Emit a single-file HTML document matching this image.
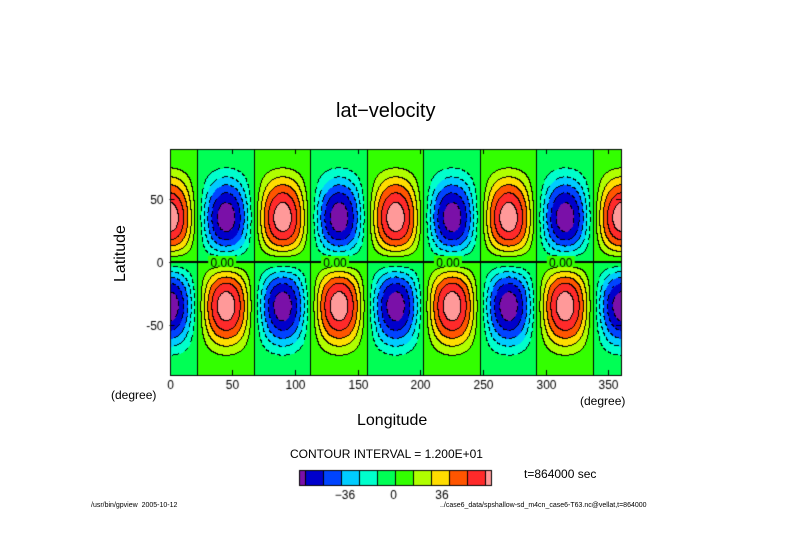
<!DOCTYPE html>
<html><head><meta charset="utf-8"><style>
body{margin:0;background:#fff;width:789px;height:558px;overflow:hidden;position:relative;font-family:"Liberation Sans",sans-serif;}
.t{position:absolute;color:#000;white-space:nowrap;}
</style></head><body>
<canvas id="c" width="789" height="558" style="position:absolute;left:0;top:0"></canvas>
<div class="t" style="left:336px;top:100px;font-size:20px;">lat−velocity</div>
<div class="t" style="left:96px;top:248px;font-size:16px;transform:rotate(-90deg);transform-origin:center;width:50px;text-align:center;">Latitude</div>
<div class="t" style="left:357px;top:412px;font-size:16px;">Longitude</div>
<div class="t" style="left:111px;top:388px;font-size:12px;">(degree)</div>
<div class="t" style="left:580px;top:394px;font-size:12px;">(degree)</div>
<div class="t" style="left:290px;top:447px;font-size:12px;">CONTOUR INTERVAL = 1.200E+01</div>
<div class="t" style="left:524px;top:467px;font-size:12px;">t=864000 sec</div>
<div class="t" style="left:91px;top:502px;font-size:7px;">/usr/bin/gpview&nbsp; 2005-10-12</div>
<div class="t" style="left:440px;top:502px;font-size:7px;">../case6_data/spshallow-sd_m4cn_case6-T63.nc@vellat,t=864000</div>
<script>
const levels=[-72,-60,-48,-36,-24,-12,0,12,24,36,48,60,72];
const colors=["#7a10a8","#0000cc","#0044ff","#00ccff","#00ffcc","#00ff55","#33ff00","#b0ff00","#ffdd00","#ff5500","#ff2a2a","#ff9999"];
const amplitude=[68];
const wavenumber=[4];
const xTicks=[0,50,100,150,200,250,300,350];
const yTicks=[-50,0,50];
const cbLabels=[-36,0,36];
const X0=169.5,X1=621,Y0=149,Y1=375;
const sx=l=>X0+(l)/360*(X1-X0);
const sy=p=>Y1-(p+90)/180*(Y1-Y0);
function field(lon,lat){const r=lat*Math.PI/180;const f=Math.sin(r)*Math.cos(r)*Math.cos(r)/0.3849;
 return amplitude[0]*Math.cos(wavenumber[0]*lon*Math.PI/180)*f;}
function lev(v){let i=0;while(i<levels.length&&v>=levels[i])i++;return i;}
const cv=document.getElementById('c'),ctx=cv.getContext('2d');
const W=Math.round(X1-X0),H=Math.round(Y1-Y0);
const img=ctx.createImageData(W,H);
const rgb=colors.map(c=>[parseInt(c.substr(1,2),16),parseInt(c.substr(3,2),16),parseInt(c.substr(5,2),16)]);
const L=[];
for(let j=0;j<H;j++){L[j]=[];for(let i=0;i<W;i++){const lon=(i+0.5)/W*360,lat=90-(j+0.5)/H*180;L[j][i]=lev(field(lon,lat));}}
for(let j=0;j<H;j++)for(let i=0;i<W;i++){
 const k=L[j][i];let c=rgb[Math.max(0,Math.min(11,k-1))];
 let edge=false,neg=false;
 if(i+1<W&&L[j][i+1]!==k){edge=true;neg=Math.min(k,L[j][i+1])<6;}
 if(j+1<H&&L[j+1][i]!==k){edge=true;neg=Math.min(k,L[j+1][i])<6;}
 if(edge&&(!neg||((i+j)%8)<5))c=[0,0,0];
 const p=(j*W+i)*4;img.data[p]=c[0];img.data[p+1]=c[1];img.data[p+2]=c[2];img.data[p+3]=255;}
ctx.putImageData(img,Math.round(X0),Y0);
ctx.strokeStyle='#000';ctx.lineWidth=1;
ctx.beginPath();ctx.moveTo(X0,sy(0)+0.5);ctx.lineTo(X1,sy(0)+0.5);ctx.stroke();
ctx.strokeRect(Math.round(X0)+0.5,Y0+0.5,W-1,H);
ctx.font='12px "Liberation Sans",sans-serif';ctx.fillStyle='#000';
ctx.textAlign='center';
xTicks.forEach(v=>{const x=Math.round(sx(v))+0.5;ctx.beginPath();ctx.moveTo(x,Y1);ctx.lineTo(x,Y1-5);ctx.moveTo(x,Y0);ctx.lineTo(x,Y0+5);ctx.stroke();ctx.fillText(v,x,Y1+14);});
ctx.textAlign='right';
yTicks.forEach(v=>{const y=Math.round(sy(v))+0.5;ctx.beginPath();ctx.moveTo(X0,y);ctx.lineTo(X0+5,y);ctx.moveTo(X1,y);ctx.lineTo(X1-5,y);ctx.stroke();ctx.fillText(v,X0-6,y+4);});
ctx.textAlign='center';
[45,135,225,315].forEach(lo=>{const x=sx(lo-3);ctx.fillStyle='#33ff00';ctx.fillRect(x-14,sy(0)-6,28,11);ctx.fillStyle='#000';ctx.fillText('0.00',x,sy(0)+5);});
const cbX=299,cbY=470,cbW=18,cbH=15,endW=6;
colors.forEach((c,i)=>{const x=i===0?cbX:cbX+endW+(i-1)*cbW;const w=(i===0||i===colors.length-1)?endW:cbW;
 ctx.fillStyle=c;ctx.fillRect(x,cbY,w,cbH);ctx.strokeRect(x+0.5,cbY+0.5,w,cbH);});
ctx.fillStyle='#000';
cbLabels.forEach(v=>{const x=393.5+v*97/72;ctx.fillText(v===0?'0':(v<0?'−'+(-v):v),x,cbY+29);});
</script>
</body></html>
